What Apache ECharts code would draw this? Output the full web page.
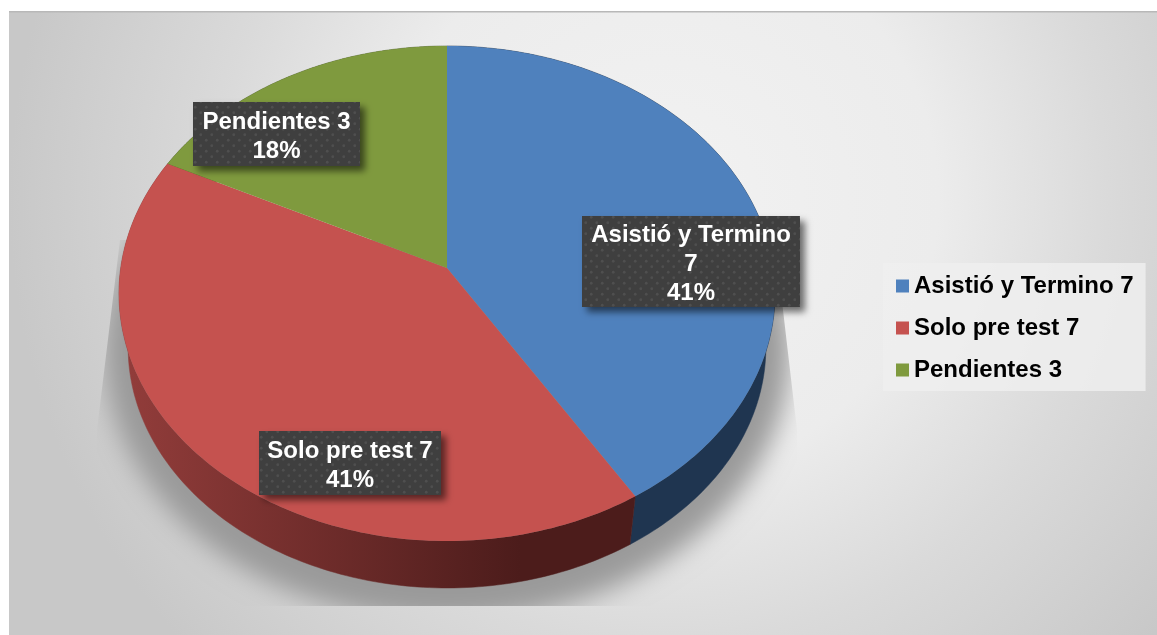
<!DOCTYPE html>
<html>
<head>
<meta charset="utf-8">
<style>html,body{margin:0;padding:0;background:#fff}#c{width:1157px;height:635px}</style>
<script src="https://cdn.jsdelivr.net/npm/echarts@6/dist/echarts.min.js"></script>
</head>
<body>
<div id="c"></div>
<script>
// ---- data ----
var sliceNames = ['Asistió y Termino', 'Solo pre test', 'Pendientes'];
var sliceValues = [7, 7, 3];
var labelLines = [['Asistió y Termino', '7'], ['Solo pre test 7'], ['Pendientes 3']];

// ---- styles ----
var faceColors = ['#4f81bd', '#c5524f', '#7f9a3e'];
var redSide = { type: 'linear', x: 119, y: 0, x2: 520, y2: 0, global: true,
  colorStops: [{ offset: 0, color: '#933d3b' }, { offset: 1, color: '#4c1c1b' }] };
var sideColors = ['#1f3550', redSide, '#4d5f26'];
var labelBoxes = [[582, 216, 218, 91], [259, 431, 182, 64], [193, 102, 167, 64]];
var FONT = 'bold 24px "Liberation Sans", Arial, sans-serif';

// ---- perspective disc geometry ----
var APEX_X = 447, APEX_Y = 268, RX = 326.3, RY = 244.9, PERSP = 0.103;
var DEPTH_Y = 54.6, DEPTH_SCALE = 0.972;
var SHADOW_SHIFT = 3000;
var total = sliceValues.reduce(function (a, b) { return a + b; }, 0);
function topPoint(v) {
  var t = v / total * 2 * Math.PI, u = Math.sin(t), w = -Math.cos(t), d = 1 - PERSP * w;
  return [APEX_X + RX * u / d, APEX_Y + RY * w / d];
}
function lowPoint(v) {
  var p = topPoint(v);
  return [APEX_X + (p[0] - APEX_X) * DEPTH_SCALE, APEX_Y + DEPTH_Y + (p[1] - APEX_Y) * DEPTH_SCALE];
}
function arc(from, to, fn) {
  var pts = [], n = 150;
  for (var i = 0; i <= n; i++) pts.push(fn(from + (to - from) * i / n));
  return pts;
}
var ranges = [], acc = 0;
sliceValues.forEach(function (v) { ranges.push([acc, acc + v]); acc += v; });

// dotted label texture
var tile = document.createElement('canvas');
tile.width = 11; tile.height = 11;
(function () {
  var g = tile.getContext('2d');
  g.fillStyle = '#3f3f3f'; g.fillRect(0, 0, 11, 11);
  g.fillStyle = '#4f4f4f';
  g.beginPath(); g.arc(2.75, 2.75, 1.4, 0, 7); g.fill();
  g.beginPath(); g.arc(8.25, 8.25, 1.4, 0, 7); g.fill();
})();

var series = [];
// cast shadow: only the blur is painted, the shape itself sits off-canvas
series.push({
  type: 'custom', name: 'sombra', coordinateSystem: 'none', z: 1, silent: true,
  data: [[0, total]],
  renderItem: function (p, api) {
    return {
      type: 'polygon',
      shape: { points: arc(api.value(0), api.value(1), function (v) {
        var q = lowPoint(v);
        return [APEX_X + (q[0] - APEX_X) * 1.075 - SHADOW_SHIFT, 322 + (q[1] - 322) * 1.125];
      }) },
      style: { fill: '#000', shadowBlur: 26, shadowOffsetX: SHADOW_SHIFT, shadowColor: '#9a9a9a' },
      clipPath: { type: 'polygon', shape: { points: [[97, 430], [120, 240], [775, 240], [783, 310], [797, 430], [797, 606], [97, 606]] } }
    };
  }
});
// walls
series.push({
  type: 'custom', name: 'lados', coordinateSystem: 'none', z: 2, silent: true,
  data: ranges,
  renderItem: function (p, api) {
    var a = api.value(0), b = api.value(1);
    var pts = arc(a, b, topPoint).concat(arc(b, a, lowPoint));
    return { type: 'polygon', shape: { points: pts }, style: { fill: sideColors[p.dataIndex], stroke: sideColors[p.dataIndex], lineWidth: 0.5 } };
  }
});
// top faces (one series per slice, for the legend)
sliceNames.forEach(function (name, i) {
  series.push({
    type: 'custom', name: name + ' ' + sliceValues[i], coordinateSystem: 'none', z: 3, silent: true,
    itemStyle: { color: faceColors[i] },
    data: [ranges[i]],
    renderItem: function (p, api) {
      var pts = [[APEX_X, APEX_Y]].concat(arc(api.value(0), api.value(1), topPoint));
      return { type: 'polygon', shape: { points: pts }, style: { fill: faceColors[i] } };
    }
  });
});
// labels
series.push({
  type: 'custom', name: 'etiquetas', coordinateSystem: 'none', z: 4, silent: true,
  data: sliceValues.map(function (v) { return [v]; }),
  renderItem: function (p, api) {
    var i = p.dataIndex, b = labelBoxes[i];
    var pct = Math.round(api.value(0) / total * 100) + '%';
    return {
      type: 'group',
      children: [{
        type: 'rect', shape: { x: b[0], y: b[1], width: b[2], height: b[3] },
        style: { fill: { image: tile, repeat: 'repeat' }, shadowBlur: 7, shadowOffsetX: 5, shadowOffsetY: 5, shadowColor: 'rgba(0,0,0,0.55)' }
      }, {
        type: 'text', x: b[0] + b[2] / 2, y: b[1] + b[3] / 2 + 3,
        style: { text: labelLines[i].concat([pct]).join('\n'), fill: '#fff', font: FONT, align: 'center', verticalAlign: 'middle', lineHeight: 29 }
      }]
    };
  }
});

var chart = echarts.init(document.getElementById('c'), null, { renderer: 'canvas' });
chart.setOption({
  animation: false,
  graphic: [{
    type: 'rect', z: -10, silent: true,
    shape: { x: 9, y: 12, width: 1148, height: 623 },
    style: { fill: { type: 'radial', x: 0.57, y: 0.3, r: 1.05,
      colorStops: [{ offset: 0, color: '#f2f2f2' }, { offset: 0.42, color: '#ececec' }, { offset: 0.68, color: '#dadada' }, { offset: 1, color: '#c8c8c8' }] } }
  }, {
    type: 'rect', z: -9, silent: true,
    shape: { x: 9, y: 11, width: 1148, height: 1.5 }, style: { fill: '#b8b8b8' }
  }],
  legend: {
    orient: 'vertical', left: 883, top: 263,
    padding: [10, 12, 8, 13],
    backgroundColor: 'rgba(238,238,238,0.85)',
    data: sliceNames.map(function (n, i) { return n + ' ' + sliceValues[i]; }),
    icon: 'rect', itemWidth: 13, itemHeight: 13, itemGap: 16,
    textStyle: { fontFamily: '"Liberation Sans", Arial, sans-serif', fontWeight: 'bold', fontSize: 24, color: '#000', lineHeight: 26 },
    selectedMode: false
  },
  series: series
});
</script>
</body>
</html>
